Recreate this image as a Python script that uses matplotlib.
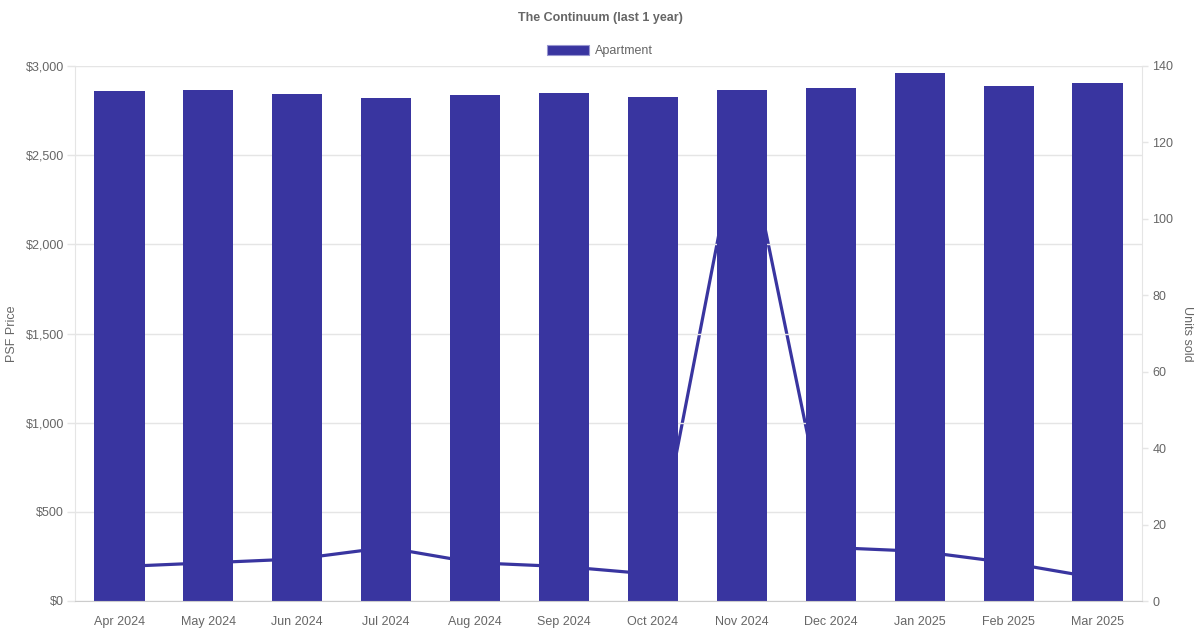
import matplotlib
matplotlib.use("Agg")
import matplotlib.pyplot as plt
from matplotlib.patches import Patch
from matplotlib.ticker import FuncFormatter, MultipleLocator

months = ["Apr 2024", "May 2024", "Jun 2024", "Jul 2024", "Aug 2024", "Sep 2024",
          "Oct 2024", "Nov 2024", "Dec 2024", "Jan 2025", "Feb 2025", "Mar 2025"]
psf_price = [2860, 2863, 2841, 2822, 2837, 2846, 2824, 2867, 2878, 2961, 2886, 2906]
units_sold = [9, 10, 11, 14, 10, 9, 7, 127, 14, 13, 10, 6]

bar_color = "#3935a0"
text_color = "#666666"
grid_color = "#e5e5e5"

plt.rcParams["font.family"] = ["Liberation Sans", "DejaVu Sans"]

fig = plt.figure(figsize=(12, 6.3), dpi=100)
ax = fig.add_axes([75 / 1200, 29 / 630, 1067 / 1200, 535 / 630])
ax2 = ax.twinx()

x = list(range(len(months)))

# units line sits behind the bars, so bars' axes goes on top
ax2.plot(x, units_sold, color=bar_color, linewidth=2.3, solid_joinstyle="miter")
ax.bar(x, psf_price, width=0.565, color=bar_color, zorder=2)
ax.set_zorder(ax2.get_zorder() + 1)
ax.patch.set_visible(False)

ax.set_xlim(-0.5, len(months) - 0.5)
ax.set_ylim(0, 3000)
ax2.set_ylim(0, 140)
ax.yaxis.set_major_locator(MultipleLocator(500))
ax2.yaxis.set_major_locator(MultipleLocator(20))
ax.yaxis.set_major_formatter(FuncFormatter(lambda v, p: f"${v:,.0f}"))

ax.set_xticks(x)
ax.set_xticklabels(months)

ax.grid(axis="y", color=grid_color, linewidth=1)
ax.set_axisbelow(True)

for a in (ax, ax2):
    for s in a.spines.values():
        s.set_visible(False)
    a.tick_params(colors=grid_color, labelcolor=text_color, labelsize=9, width=1)
ax.tick_params(axis="y", length=6, pad=2)
ax2.tick_params(axis="y", length=4.5, pad=3)
ax.spines["left"].set_visible(True)
ax.spines["left"].set_color(grid_color)
ax.spines["bottom"].set_visible(True)
ax.spines["bottom"].set_color("#cccccc")
ax2.spines["right"].set_visible(True)
ax2.spines["right"].set_color(grid_color)
ax.tick_params(axis="x", length=0, pad=11)

ax.set_ylabel("PSF Price", color=text_color, fontsize=9, va="center")
ax.yaxis.set_label_coords(-0.059, 0.5)
ax2.set_ylabel("Units sold", color=text_color, fontsize=9, rotation=-90, va="center")
ax2.yaxis.set_label_coords(1.042, 0.5)

fig.text(0.5, 1 - 18 / 630, "The Continuum (last 1 year)", ha="center", va="center",
         fontsize=9, fontweight="bold", color=text_color)

fig.legend(handles=[Patch(facecolor=bar_color, edgecolor="#9896d0", linewidth=0.8)],
           labels=["Apartment"], loc="center", bbox_to_anchor=(0.5, 1 - 51 / 630),
           frameon=False, fontsize=9, labelcolor=text_color,
           handlelength=3.3, handleheight=0.95, handletextpad=0.5)

fig.savefig("out.png", dpi=100, facecolor="white")
